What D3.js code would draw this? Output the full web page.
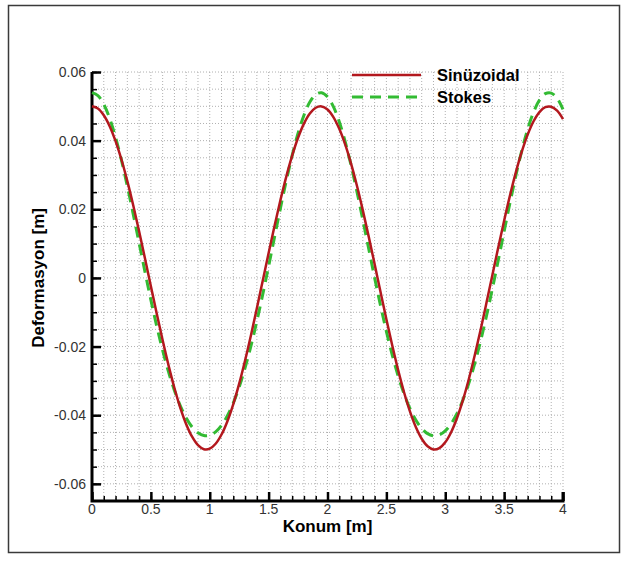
<!DOCTYPE html>
<html>
<head>
<meta charset="utf-8">
<script src="https://cdn.jsdelivr.net/npm/d3@7"></script>
<style>
  html, body { margin: 0; padding: 0; background: #fff; }
  svg { display: block; font-family: "Liberation Sans", Arial, sans-serif; }
</style>
</head>
<body>
<svg id="chart" width="627" height="566"></svg>
<script>
// Position along the beam [m], sampled every 0.05 m
const positions = d3.range(81).map(i => +(i * 0.05).toFixed(2));

// Deformation for the sinusoidal profile [m]
const sinusoidal = [
  0.05, 0.04935, 0.0474, 0.04422, 0.03988, 0.0345, 0.0282, 0.02117, 0.01359, 0.00566,
  -0.00243, -0.01045, -0.01819, -0.02547, -0.03207, -0.03784, -0.04261, -0.04627, -0.04872, -0.0499,
  -0.04976, -0.04833, -0.04563, -0.04174, -0.03676, -0.03082, -0.02405, -0.01668, -0.00885, -0.00081,
  0.00726, 0.01515, 0.02263, 0.02953, 0.03563, 0.04083, 0.04495, 0.04789, 0.04958, 0.04997,
  0.04906, 0.04686, 0.04344, 0.03889, 0.03329, 0.02684, 0.01969, 0.01203, 0.00404, -0.00405,
  -0.01203, -0.0197, -0.02686, -0.03331, -0.03888, -0.04344, -0.04686, -0.04906, -0.04997, -0.04958,
  -0.04789, -0.04495, -0.04082, -0.03562, -0.02952, -0.02262, -0.01515, -0.00726, 0.00081, 0.00886,
  0.01668, 0.02406, 0.03082, 0.03677, 0.04174, 0.04564, 0.04833, 0.04976, 0.04989, 0.04872,
  0.04627
];

// Deformation for the Stokes profile [m]
const stokes = [
  0.054, 0.05314, 0.05059, 0.04648, 0.04097, 0.03431, 0.02674, 0.0186, 0.01018, 0.00176,
  -0.00641, -0.0141, -0.02113, -0.02739, -0.03278, -0.03726, -0.0408, -0.04342, -0.04512, -0.04593,
  -0.04584, -0.04486, -0.04297, -0.04016, -0.03644, -0.03178, -0.0262, -0.01979, -0.0126, -0.00481,
  0.00343, 0.01188, 0.02027, 0.02832, 0.03569, 0.04216, 0.04742, 0.05123, 0.05345, 0.05396,
  0.05276, 0.04989, 0.04548, 0.03973, 0.03284, 0.02515, 0.01693, 0.00849, 0.00009, -0.008,
  -0.01557, -0.02246, -0.02855, -0.03376, -0.03804, -0.0414, -0.04383, -0.04536, -0.04598, -0.04571,
  -0.04455, -0.04248, -0.03949, -0.03556, -0.03073, -0.02498, -0.01842, -0.01109, -0.00319, 0.00511,
  0.01357, 0.02191, 0.02986, 0.03709, 0.04332, 0.0483, 0.0518, 0.05368, 0.05386, 0.05232,
  0.04912
];

const seriesNames = ["Sinüzoidal", "Stokes"];
const xTicks = [0, 0.5, 1, 1.5, 2, 2.5, 3, 3.5, 4];
const xTickLabels = ["0", "0.5", "1", "1.5", "2", "2.5", "3", "3.5", "4"];
const yTicks = [-0.06, -0.04, -0.02, 0, 0.02, 0.04, 0.06];
const yTickLabels = ["-0.06", "-0.04", "-0.02", "0", "0.02", "0.04", "0.06"];
const xLabel = "Konum [m]";
const yLabel = "Deformasyon [m]";

const svg = d3.select("#chart");

// outer frame
svg.append("rect")
  .attr("x", 8.5).attr("y", 5.5).attr("width", 611).attr("height", 547)
  .attr("fill", "none").attr("stroke", "#3a3a3a").attr("stroke-width", 1.5);

const plotLeft = 92, plotRight = 563, plotTop = 72, plotBottom = 501;
const x = d3.scaleLinear().domain([0, 4]).range([plotLeft, plotRight]);
const y = d3.scaleLinear().domain([-0.065, 0.06]).range([plotBottom, plotTop]);

const xMinorValues = d3.range(0, 41).map(i => i * 0.1);
const yMinorValues = d3.range(0, 26).map(i => 0.06 - i * 0.005);

// dotted grid
const grid = svg.append("g").attr("stroke", "#b0b0b0").attr("stroke-width", 1)
  .attr("stroke-dasharray", "1,2");
xMinorValues.slice(1).forEach(v => {
  grid.append("line").attr("x1", x(v)).attr("x2", x(v))
    .attr("y1", y(0.06)).attr("y2", plotBottom);
});
yMinorValues.slice(0, 25).forEach(v => {
  grid.append("line").attr("x1", plotLeft).attr("x2", x(4))
    .attr("y1", y(v)).attr("y2", y(v));
});

// axes with inward ticks
const xMajor = d3.axisTop(x).tickValues(xTicks).tickSize(9).tickFormat("");
const xMinor = d3.axisTop(x).tickValues(xMinorValues).tickSize(5).tickFormat("");
const yMajor = d3.axisRight(y).tickValues(yTicks).tickSize(9).tickFormat("");
const yMinor = d3.axisRight(y).tickValues(yMinorValues.slice(0, 25)).tickSize(5).tickFormat("");

function styleAxis(g, w) {
  g.select(".domain").remove();
  g.selectAll(".tick line").attr("stroke", "#000").attr("stroke-width", w);
}
svg.append("g").attr("transform", `translate(0,${plotBottom})`).call(xMinor).call(g => styleAxis(g, 1.5));
svg.append("g").attr("transform", `translate(0,${plotBottom})`).call(xMajor).call(g => styleAxis(g, 2.5));
svg.append("g").attr("transform", `translate(${plotLeft},0)`).call(yMinor).call(g => styleAxis(g, 1.5));
svg.append("g").attr("transform", `translate(${plotLeft},0)`).call(yMajor).call(g => styleAxis(g, 2.5));

// axis lines
svg.append("path")
  .attr("d", `M${plotLeft},${y(0.06)}V${plotBottom}H${x(4)}V${plotBottom - 9}`)
  .attr("fill", "none").attr("stroke", "#000").attr("stroke-width", 3);

// tick labels
svg.append("g").selectAll("text").data(xTicks).join("text")
  .attr("x", d => x(d)).attr("y", plotBottom + 13)
  .attr("text-anchor", "middle").attr("font-size", 14).attr("fill", "#333")
  .text((d, i) => xTickLabels[i]);
svg.append("g").selectAll("text").data(yTicks).join("text")
  .attr("x", plotLeft - 6).attr("y", d => y(d) + 5)
  .attr("text-anchor", "end").attr("font-size", 14).attr("fill", "#333")
  .text((d, i) => yTickLabels[i]);

// axis titles
svg.append("text").attr("x", (plotLeft + plotRight) / 2).attr("y", 532)
  .attr("text-anchor", "middle").attr("font-size", 17).attr("font-weight", "bold")
  .text(xLabel);
svg.append("text").attr("transform", `translate(44,${y(0)}) rotate(-90)`)
  .attr("text-anchor", "middle").attr("font-size", 17).attr("font-weight", "bold")
  .text(yLabel);

// curves
const line = d3.line().x((d, i) => x(positions[i])).y(d => y(d)).curve(d3.curveCatmullRom);
const plot = svg.append("g");
plot.append("path").datum(stokes).attr("d", line)
  .attr("fill", "none").attr("stroke", "#33bb33").attr("stroke-width", 3)
  .attr("stroke-dasharray", "11,7");
plot.append("path").datum(sinusoidal).attr("d", line)
  .attr("fill", "none").attr("stroke", "#b3181e").attr("stroke-width", 2.5);

// legend
const legend = svg.append("g");
const legendStyles = [
  { stroke: "#b3181e", width: 2.5, dash: null },
  { stroke: "#33bb33", width: 3, dash: "11,7" }
];
seriesNames.forEach((name, i) => {
  const ly = 75 + i * 22;
  legend.append("line").attr("x1", 352).attr("x2", 421).attr("y1", ly).attr("y2", ly)
    .attr("stroke", legendStyles[i].stroke).attr("stroke-width", legendStyles[i].width)
    .attr("stroke-dasharray", legendStyles[i].dash);
  legend.append("text").attr("x", 437).attr("y", ly + 6)
    .attr("font-size", 16.5).attr("font-weight", "bold").text(name);
});
</script>
</body>
</html>
